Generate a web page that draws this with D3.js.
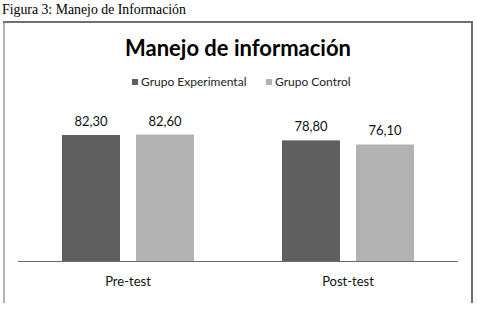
<!DOCTYPE html>
<html>
<head>
<meta charset="utf-8">
<script src="https://cdn.jsdelivr.net/npm/d3@7"></script>
<style>
  body { margin: 0; background: #fff; }
</style>
</head>
<body>
<script>
// chart data
var categories = ["Pre-test", "Post-test"];
var seriesNames = ["Grupo Experimental", "Grupo Control"];
var experimental = [82.30, 78.80];
var control = [82.60, 76.10];
var seriesColors = ["#5f5f5f", "#b2b2b2"];

var width = 477, height = 312;
var svg = d3.select("body").append("svg")
  .attr("width", width)
  .attr("height", height);

/** caption above the frame */
svg.append("text")
  .attr("x", 2)
  .attr("y", 14)
  .style("font-family", "'Liberation Serif', 'Times New Roman', serif")
  .style("font-size", "13.8px")
  .attr("fill", "#000")
  .text("Figura 3: Manejo de Información");

/** frame: dark top and right, light left */
svg.append("line").attr("x1", 3).attr("x2", 473).attr("y1", 22).attr("y2", 22)
  .attr("stroke", "#707070").attr("stroke-width", 2);
svg.append("line").attr("x1", 4).attr("x2", 4).attr("y1", 23).attr("y2", 303)
  .attr("stroke", "#b4b4b4").attr("stroke-width", 2);
svg.append("line").attr("x1", 472).attr("x2", 472).attr("y1", 21).attr("y2", 303)
  .attr("stroke", "#6e6e6e").attr("stroke-width", 2);

/** title */
svg.append("text")
  .attr("x", 238)
  .attr("y", 56)
  .attr("text-anchor", "middle")
  .style("font-family", "Lato, 'Open Sans', sans-serif")
  .style("font-weight", "bold")
  .style("font-size", "22px")
  .attr("fill", "#000")
  .text("Manejo de información");

/** legend */
var legendX = [132, 266];
var legend = svg.append("g").selectAll("g")
  .data(seriesNames)
  .join("g")
  .attr("transform", function(d, i) { return "translate(" + legendX[i] + ",77)"; });
legend.append("rect")
  .attr("width", 6).attr("height", 6).attr("y", 2)
  .attr("fill", function(d, i) { return seriesColors[i]; });
legend.append("text")
  .attr("x", 9).attr("y", 8.5)
  .style("font-family", "Lato, 'Open Sans', sans-serif")
  .style("font-size", "12px")
  .attr("fill", "#222")
  .text(function(d) { return d; });

/** scales */
var x0 = d3.scaleBand().domain(categories).range([18, 458]);
var x1 = d3.scaleBand().domain(seriesNames).range([0, 132]).paddingInner(0.216);
var y = d3.scaleLinear().domain([0, 100]).range([261, 107.9]);

var rows = categories.map(function(c, i) {
  return { cat: c, values: [experimental[i], control[i]] };
});

var groups = svg.append("g").selectAll("g")
  .data(rows)
  .join("g")
  .attr("transform", function(d) {
    return "translate(" + (x0(d.cat) + x0.bandwidth() / 2 - 66) + ",0)";
  });

groups.selectAll("rect")
  .data(function(d) { return d.values.map(function(v, i) { return { s: seriesNames[i], v: v, i: i }; }); })
  .join("rect")
  .attr("x", function(d) { return x1(d.s); })
  .attr("y", function(d) { return y(d.v); })
  .attr("width", x1.bandwidth())
  .attr("height", function(d) { return y(0) - y(d.v); })
  .attr("fill", function(d) { return seriesColors[d.i]; });

groups.selectAll("text")
  .data(function(d) { return d.values.map(function(v, i) { return { s: seriesNames[i], v: v }; }); })
  .join("text")
  .attr("x", function(d) { return x1(d.s) + x1.bandwidth() / 2; })
  .attr("y", function(d) { return y(d.v) - 9; })
  .attr("text-anchor", "middle")
  .style("font-family", "Lato, 'Open Sans', sans-serif")
  .style("font-size", "13px")
  .attr("fill", "#111")
  .text(function(d) { return d.v.toFixed(2).replace(".", ","); });

/** category axis */
var xAxis = svg.append("g")
  .attr("transform", "translate(0,261)")
  .call(d3.axisBottom(x0).tickSize(0).tickPadding(16));
xAxis.select(".domain").attr("stroke", "#6a6a6a").attr("d", "M18,0.5H458");
xAxis.selectAll("text")
  .style("font-family", "Lato, 'Open Sans', sans-serif")
  .style("font-size", "13px")
  .attr("fill", "#111");
</script>
</body>
</html>
